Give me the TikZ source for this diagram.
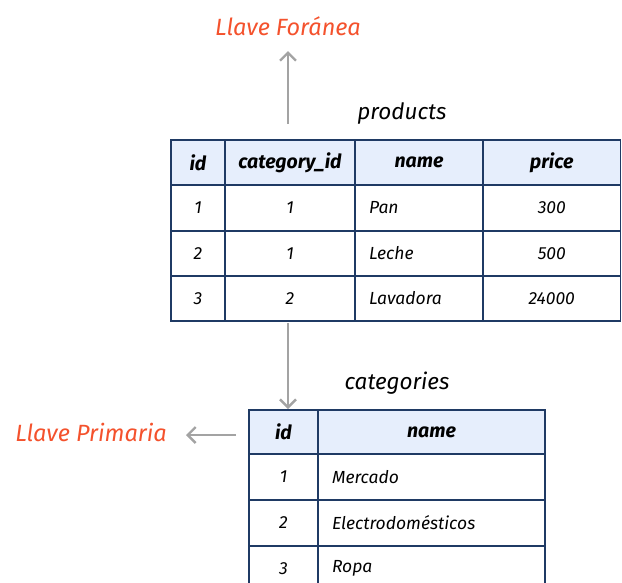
\documentclass[tikz,border=0pt]{standalone}
\usepackage{fontspec}
\setmainfont{Fira Sans}
\usetikzlibrary{arrows.meta}
\definecolor{gridline}{HTML}{1F3A64}
\definecolor{headfill}{HTML}{E6EEFC}
\definecolor{keytext}{HTML}{F4522D}
\definecolor{arrowgray}{HTML}{A3A3A3}

% centred cell: name, x1, y1, x2, y2, extra style, text
\newcommand\ccell[7]{%
  \pgfmathsetmacro\cellw{#4-#2}\pgfmathsetmacro\cellh{#5-#3}%
  \node[cellbox,minimum width=\cellw pt,minimum height=\cellh pt,#6]
    (#1) at ({(#2+#4)/2},{(#3+#5)/2}) {#7};}
% left-aligned cell: name, x1, y1, x2, y2, text
\newcommand\lcell[6]{%
  \pgfmathsetmacro\cellw{#4-#2}\pgfmathsetmacro\cellh{#5-#3}%
  \pgfmathsetmacro\cellt{#4-#2-28}%
  \node[cellbox,minimum width=\cellw pt,minimum height=\cellh pt,
        text width=\cellt pt,align=left]
    (#1) at ({(#2+#4)/2},{(#3+#5)/2}) {#6};}

\begin{document}
\begin{tikzpicture}[x=1pt,y=-1pt,
  cellbox/.style={draw=gridline,line width=1.8pt,fill=white,inner sep=0pt,
    font=\fontsize{17.5}{20}\selectfont\itshape},
  headcell/.style={fill=headfill,font=\fontsize{19.5}{22}\selectfont\bfseries\itshape},
  tabletitle/.style={font=\fontsize{22.5}{25}\selectfont\itshape\mdseries,text=black},
  keylabel/.style={font=\fontsize{23.5}{26}\selectfont\itshape,text=keytext},
  keyarrow/.style={draw=arrowgray,line width=2.6pt,
    -{Straight Barb[length=8pt,width=16pt,line width=2.4pt]}}]
\useasboundingbox (0,0) rectangle (622,582);
\clip (0,0) rectangle (622,582);

% products table
\node[tabletitle] (ptitle) at (402,114) {products};
\ccell{ph1}{171}{140}{225}{185}{headcell}{id}
\ccell{ph2}{225}{140}{355}{185}{headcell}{category\_id}
\ccell{ph3}{355}{140}{483}{185}{headcell}{name}
\ccell{ph4}{483}{140}{620.5}{185}{headcell}{price}
\ccell{pa1}{171}{185}{225}{231}{}{1}
\ccell{pa2}{225}{185}{355}{231}{}{1}
\lcell{pa3}{355}{185}{483}{231}{Pan}
\ccell{pa4}{483}{185}{620.5}{231}{}{300}
\ccell{pb1}{171}{231}{225}{276}{}{2}
\ccell{pb2}{225}{231}{355}{276}{}{1}
\lcell{pb3}{355}{231}{483}{276}{Leche}
\ccell{pb4}{483}{231}{620.5}{276}{}{500}
\ccell{pc1}{171}{276}{225}{321}{}{3}
\ccell{pc2}{225}{276}{355}{321}{}{2}
\lcell{pc3}{355}{276}{483}{321}{Lavadora}
\ccell{pc4}{483}{276}{620.5}{321}{}{24000}

% categories table
\node[tabletitle] (ctitle) at (397,383) {categories};
\ccell{ch1}{249}{410}{318}{454}{headcell}{id}
\ccell{ch2}{318}{410}{545}{454}{headcell}{name}
\ccell{ca1}{249}{454}{318}{500}{}{1}
\lcell{ca2}{318}{454}{545}{500}{Mercado}
\ccell{cb1}{249}{500}{318}{546}{}{2}
\lcell{cb2}{318}{500}{545}{546}{Electrodomésticos}
\ccell{cc1}{249}{546}{318}{591}{}{3}
\lcell{cc2}{318}{546}{545}{591}{Ropa}

% key labels and arrows
\node[keylabel] (fk) at (288,26) {Llave Foránea};
\node[keylabel] (pk) at (91,432) {Llave Primaria};
\coordinate (fkfoot) at (288,124);
\coordinate (fktip) at (288,51);
\coordinate (relfoot) at (288,323);
\coordinate (reltip) at (288,409);
\coordinate (pkfoot) at (236,435);
\coordinate (pktip) at (186,435);
\draw[keyarrow] (fkfoot) -- (fktip);
\draw[keyarrow] (relfoot) -- (reltip);
\draw[keyarrow] (pkfoot) -- (pktip);
\end{tikzpicture}
\end{document}
